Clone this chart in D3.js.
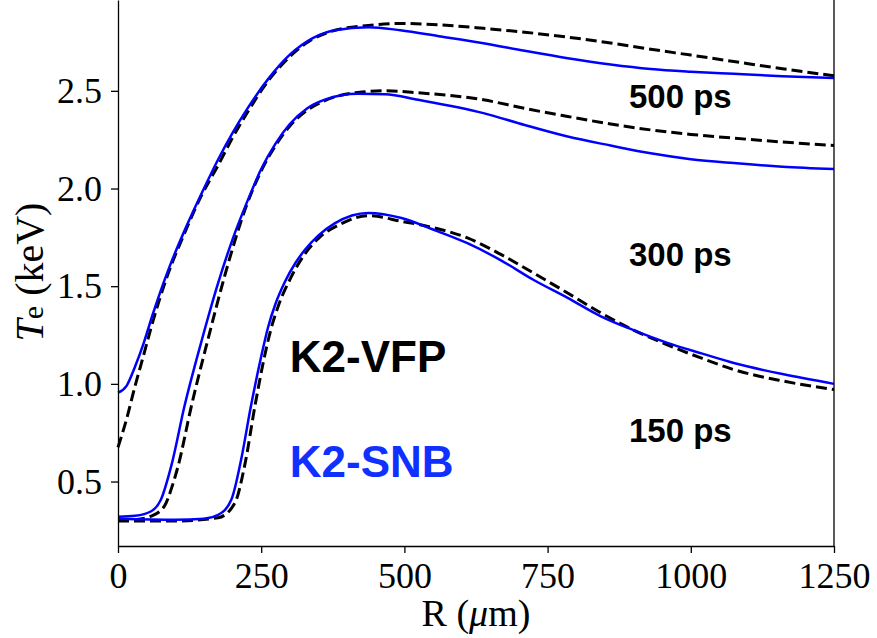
<!DOCTYPE html>
<html>
<head>
<meta charset="utf-8">
<script src="https://cdn.jsdelivr.net/npm/d3@7"></script>
<style>
  body { margin: 0; background: #fff; }
  .tick text { font-family: "Liberation Serif", serif; font-size: 36px; fill: #000; }
</style>
</head>
<body>
<div id="container"></div>
<script>

// Values: R in um, Te in keV
const xTicks = [0, 250, 500, 750, 1000, 1250];
const yTicks = [0.5, 1.0, 1.5, 2.0, 2.5];

const r500Snb = [0, 15, 30, 45, 60, 90, 120, 150, 175, 200, 225, 262, 300, 340, 379, 437, 493, 560, 638, 710, 785, 860, 930, 1000, 1075, 1160, 1250];
const te500Snb = [0.955, 0.99, 1.09, 1.21, 1.35, 1.60, 1.81, 2.00, 2.15, 2.285, 2.405, 2.56, 2.685, 2.77, 2.81, 2.826, 2.81, 2.78, 2.744, 2.705, 2.667, 2.635, 2.612, 2.598, 2.587, 2.575, 2.565];

const r500Vfp = [0, 15, 29, 45, 58, 87, 116, 145, 175, 200, 225, 262, 300, 340, 379, 437, 493, 560, 638, 710, 785, 860, 930, 1000, 1075, 1160, 1250];
const te500Vfp = [0.675, 0.82, 0.98, 1.15, 1.29, 1.56, 1.77, 1.96, 2.12, 2.26, 2.385, 2.55, 2.675, 2.765, 2.81, 2.835, 2.845, 2.838, 2.82, 2.80, 2.775, 2.745, 2.713, 2.683, 2.65, 2.613, 2.577];

const r300Snb = [0, 30, 58, 75, 93, 116, 145, 175, 200, 227, 250, 275, 300, 330, 361, 419, 466, 524, 638, 710, 785, 860, 930, 1000, 1075, 1160, 1250];
const te300Snb = [0.32, 0.325, 0.348, 0.408, 0.58, 0.885, 1.21, 1.518, 1.74, 1.943, 2.10, 2.23, 2.33, 2.41, 2.455, 2.485, 2.483, 2.454, 2.386, 2.325, 2.266, 2.22, 2.18, 2.15, 2.13, 2.112, 2.10];

const r300Vfp = [0, 30, 58, 81, 95, 105, 128, 157, 186, 224, 250, 275, 300, 330, 361, 419, 466, 524, 638, 710, 785, 860, 930, 1000, 1075, 1160, 1250];
const te300Vfp = [0.302, 0.305, 0.323, 0.374, 0.48, 0.58, 0.885, 1.227, 1.55, 1.91, 2.09, 2.22, 2.32, 2.40, 2.45, 2.492, 2.50, 2.49, 2.454, 2.41, 2.369, 2.33, 2.30, 2.277, 2.258, 2.238, 2.22];

const r150Snb = [0, 100, 150, 175, 198, 215, 232, 250, 262, 275, 291, 310, 326, 350, 379, 437, 495, 550, 610, 670, 725, 785, 843, 900, 959, 1020, 1075, 1160, 1250];
const te150Snb = [0.31, 0.305, 0.31, 0.33, 0.408, 0.613, 0.885, 1.14, 1.29, 1.41, 1.52, 1.62, 1.685, 1.76, 1.823, 1.875, 1.849, 1.79, 1.72, 1.63, 1.533, 1.44, 1.346, 1.275, 1.21, 1.155, 1.107, 1.05, 1.0];

const r150Vfp = [0, 100, 175, 204, 221, 239, 255, 267, 280, 302, 325, 350, 390, 437, 495, 550, 610, 670, 725, 785, 843, 900, 959, 1020, 1075, 1160, 1250];
const te150Vfp = [0.298, 0.298, 0.315, 0.39, 0.58, 0.885, 1.13, 1.28, 1.40, 1.545, 1.66, 1.745, 1.82, 1.861, 1.832, 1.80, 1.747, 1.66, 1.568, 1.465, 1.363, 1.275, 1.20, 1.13, 1.073, 1.015, 0.971];

const curves = [
  { r: r500Vfp, te: te500Vfp, kind: "vfp" },
  { r: r500Snb, te: te500Snb, kind: "snb" },
  { r: r300Vfp, te: te300Vfp, kind: "vfp" },
  { r: r300Snb, te: te300Snb, kind: "snb" },
  { r: r150Vfp, te: te150Vfp, kind: "vfp" },
  { r: r150Snb, te: te150Snb, kind: "snb" }
];

// time labels, placed in data coordinates
const timeLabels = ["500 ps", "300 ps", "150 ps"];
const timeLabelR = [892, 892, 892];
const timeLabelTe = [2.413, 1.605, 0.70];

const width = 877;
const height = 638;

const svg = d3.create("svg")
    .attr("width", width)
    .attr("height", height);

const x = d3.scaleLinear().domain([0, 1250]).range([118, 834]);
const y = d3.scaleLinear().domain([0.17, 2.965]).range([546, 0]);

const line = d3.line()
    .x(d => x(d[0]))
    .y(d => y(d[1]))
    .curve(d3.curveMonotoneX);

// curves
curves.forEach(c => {
  const pts = c.r.map((v, i) => [v, c.te[i]]);
  svg.append("path")
      .attr("d", line(pts))
      .attr("fill", "none")
      .attr("stroke", c.kind == "vfp" ? "#000" : "#0000ff")
      .attr("stroke-width", c.kind == "vfp" ? 3 : 2.5)
      .attr("stroke-dasharray", c.kind == "vfp" ? "11,5" : null);
});

// axes
svg.append("g")
    .attr("transform", `translate(0,${y.range()[0]})`)
    .call(d3.axisBottom(x).tickValues(xTicks).tickFormat(d3.format("d")).tickSize(7).tickSizeOuter(0).tickPadding(9))
    .call(g => g.selectAll("path, line").attr("stroke", "#000").attr("stroke-width", 1.3));

svg.append("g")
    .attr("transform", `translate(${x.range()[0]},0)`)
    .call(d3.axisLeft(y).tickValues(yTicks).tickFormat(d3.format(".1f")).tickSize(7).tickSizeOuter(0).tickPadding(9))
    .call(g => g.selectAll("path, line").attr("stroke", "#000").attr("stroke-width", 1.3));

// right spine
svg.append("line")
    .attr("x1", x(1250)).attr("x2", x(1250))
    .attr("y1", y.range()[0]).attr("y2", y.range()[1])
    .attr("stroke", "#000")
    .attr("stroke-width", 1.3);

// axis titles
const xl = svg.append("text")
    .attr("x", (x.range()[0] + x.range()[1]) / 2)
    .attr("y", 626)
    .attr("text-anchor", "middle")
    .attr("font-family", "Liberation Serif, serif")
    .attr("font-size", 38);
xl.append("tspan").text("R (");
xl.append("tspan").attr("font-style", "italic").text("μ");
xl.append("tspan").text("m)");

const yl = svg.append("text")
    .attr("transform", "translate(43,272) rotate(-90)")
    .attr("text-anchor", "middle")
    .attr("font-family", "Liberation Serif, serif")
    .attr("font-size", 40);
yl.append("tspan").attr("font-style", "italic").text("T");
yl.append("tspan").attr("font-size", 30).text("e");
yl.append("tspan").text(" (keV)");

// annotations
timeLabels.forEach((t, i) => {
  svg.append("text")
      .attr("x", x(timeLabelR[i]))
      .attr("y", y(timeLabelTe[i]))
      .attr("font-family", "Liberation Sans, Arial, sans-serif")
      .attr("font-weight", "bold")
      .attr("font-size", 33)
      .text(t);
});

svg.append("text")
    .attr("x", x(300)).attr("y", y(1.063))
    .attr("font-family", "Liberation Sans, Arial, sans-serif")
    .attr("font-weight", "bold")
    .attr("font-size", 44)
    .attr("fill", "#000")
    .text("K2-VFP");

svg.append("text")
    .attr("x", x(300)).attr("y", y(0.521))
    .attr("font-family", "Liberation Sans, Arial, sans-serif")
    .attr("font-weight", "bold")
    .attr("font-size", 44)
    .attr("fill", "#1030ff")
    .text("K2-SNB");

container.append(svg.node());

</script>
</body>
</html>
